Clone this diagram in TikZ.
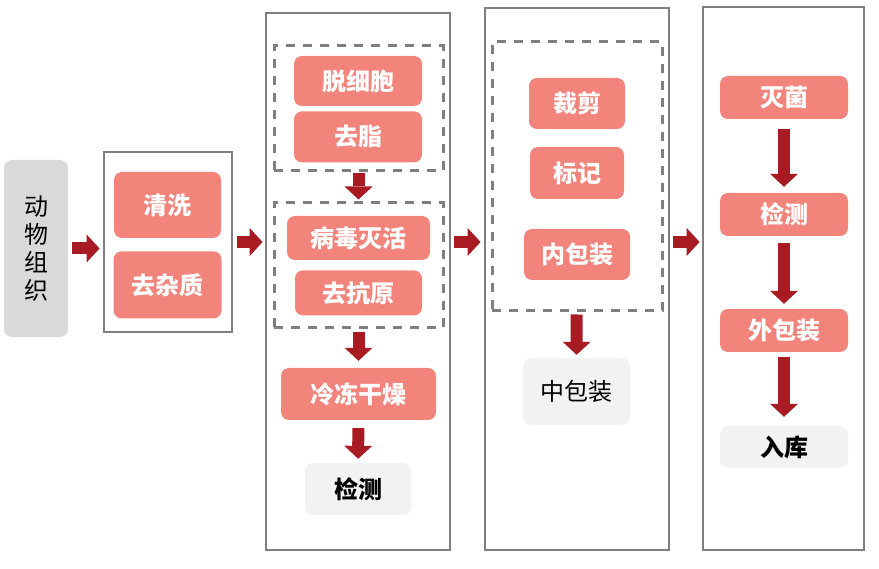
\documentclass[tikz,border=0pt]{standalone}
\usepackage{fontspec}
\usepackage{tikz}
\newfontfamily\cjk{Noto Sans CJK SC}
\usetikzlibrary{arrows.meta, positioning}
\definecolor{gongxuse}{HTML}{F3847B}
\definecolor{jiantouse}{HTML}{A81B22}
\definecolor{kuangse}{HTML}{7F7F7F}
\definecolor{huise}{HTML}{D9D9D9}
\definecolor{qianhui}{HTML}{F2F2F2}
\tikzstyle{gongxu} = [fill=gongxuse, text=white, rounded corners=8pt, inner sep=0pt, font=\cjk\bfseries\fontsize{24}{28}\selectfont]
\tikzstyle{jiance} = [fill=qianhui, text=black, rounded corners=8pt, inner sep=0pt, font=\cjk\bfseries\fontsize{24}{28}\selectfont]
\tikzstyle{huikuai} = [fill=huise, text=black, rounded corners=8pt, inner sep=0pt, align=center, font=\cjk\fontsize{24}{28}\selectfont]
\tikzstyle{kuang} = [draw=kuangse, line width=2.8pt, inner sep=0pt]
\tikzstyle{xukuang} = [draw=kuangse, line width=3pt, dash pattern=on 9pt off 8pt, inner sep=0pt]
\tikzstyle{jiantou} = [draw=jiantouse, line width=12pt, -{Triangle[width=28pt, length=13pt, line width=0pt]}]

\begin{document}
\begin{tikzpicture}[x=1pt, y=-1pt]
	\useasboundingbox (0,0) rectangle (879,569);
	% raw material
	\node [huikuai, minimum width=64pt, minimum height=177pt] (zuzhi) at (36,248.5) {动\\物\\组\\织};
	% step 1
	\node [kuang, minimum width=128pt, minimum height=180pt] (k1) at (168,242) {};
	\node [gongxu, minimum width=107pt, minimum height=66pt] (qingxi) at (167.5,205) {清洗};
	\node [gongxu, minimum width=108pt, minimum height=67pt, below=13pt of qingxi] (zazhi) {去杂质};
	% step 2
	\node [kuang, minimum width=184pt, minimum height=537pt] (k2) at (358,281.5) {};
	\node [xukuang, minimum width=169pt, minimum height=125pt] (xa) at (358.5,108.5) {};
	\node [gongxu, minimum width=128pt, minimum height=50pt] (tuoxibao) at (358,81) {脱细胞};
	\node [gongxu, minimum width=128pt, minimum height=51pt, below=5pt of tuoxibao] (quzhi) {去脂};
	\node [xukuang, minimum width=169pt, minimum height=125pt] (xb) at (358.5,265.5) {};
	\node [gongxu, minimum width=143pt, minimum height=44pt] (bingdu) at (358.5,238) {病毒灭活};
	\node [gongxu, minimum width=127pt, minimum height=45pt, below=10pt of bingdu] (kangyuan) {去抗原};
	\node [gongxu, minimum width=155pt, minimum height=52pt] (lengdong) at (358.5,394) {冷冻干燥};
	\node [jiance, minimum width=106pt, minimum height=52pt] (jiance1) at (358,489) {检测};
	% step 3
	\node [kuang, minimum width=184pt, minimum height=542pt] (k3) at (577,279) {};
	\node [xukuang, minimum width=170pt, minimum height=269pt] (xc) at (577,176.5) {};
	\node [gongxu, minimum width=96pt, minimum height=51pt] (caijian) at (577,103.5) {裁剪};
	\node [gongxu, minimum width=94pt, minimum height=52pt] (biaoji) at (577,173) {标记};
	\node [gongxu, minimum width=106pt, minimum height=51pt] (neibao) at (577,254.5) {内包装};
	\node [jiance, font=\cjk\fontsize{24}{28}\selectfont, minimum width=107pt, minimum height=67pt] (zhongbao) at (576.5,391.5) {中包装};
	% step 4
	\node [kuang, minimum width=161pt, minimum height=543pt] (k4) at (783.5,278.5) {};
	\node [gongxu, minimum width=128pt, minimum height=43pt] (miejun) at (784,97.5) {灭菌};
	\node [gongxu, minimum width=128pt, minimum height=43pt] (jiance2) at (784,214.5) {检测};
	\node [gongxu, minimum width=128pt, minimum height=43pt] (waibao) at (784,330.5) {外包装};
	\node [jiance, minimum width=128pt, minimum height=42pt] (ruku) at (784,447) {入库};

	\draw [jiantou, shorten <=4pt, shorten >=3pt] (zuzhi.east) -- (zuzhi.east -| k1.west);
	\draw [jiantou, shorten <=4pt, shorten >=2pt] (k1.east) -- (k1.east -| k2.west);
	\draw [jiantou, shorten <=3pt, shorten >=3pt] (k2.east |- k1.east) -- (k3.west |- k1.east);
	\draw [jiantou, shorten <=3pt, shorten >=2pt] (k3.east |- k1.east) -- (k4.west |- k1.east);
	\draw [jiantou, shorten <=1pt, shorten >=2pt] (xa) -- (xb);
	\draw [jiantou, shorten <=3pt, shorten >=7pt] (xb) -- (lengdong);
	\draw [jiantou, shorten <=8pt, shorten >=4pt] (lengdong) -- (jiance1);
	\draw [jiantou, shorten <=2pt, shorten >=3pt] (xc) -- (zhongbao);
	\draw [jiantou, shorten <=10pt, shorten >=6pt] (miejun) -- (jiance2);
	\draw [jiantou, shorten <=7pt, shorten >=5pt] (jiance2) -- (waibao);
	\draw [jiantou, shorten <=5pt, shorten >=9pt] (waibao) -- (ruku);
\end{tikzpicture}
\end{document}
